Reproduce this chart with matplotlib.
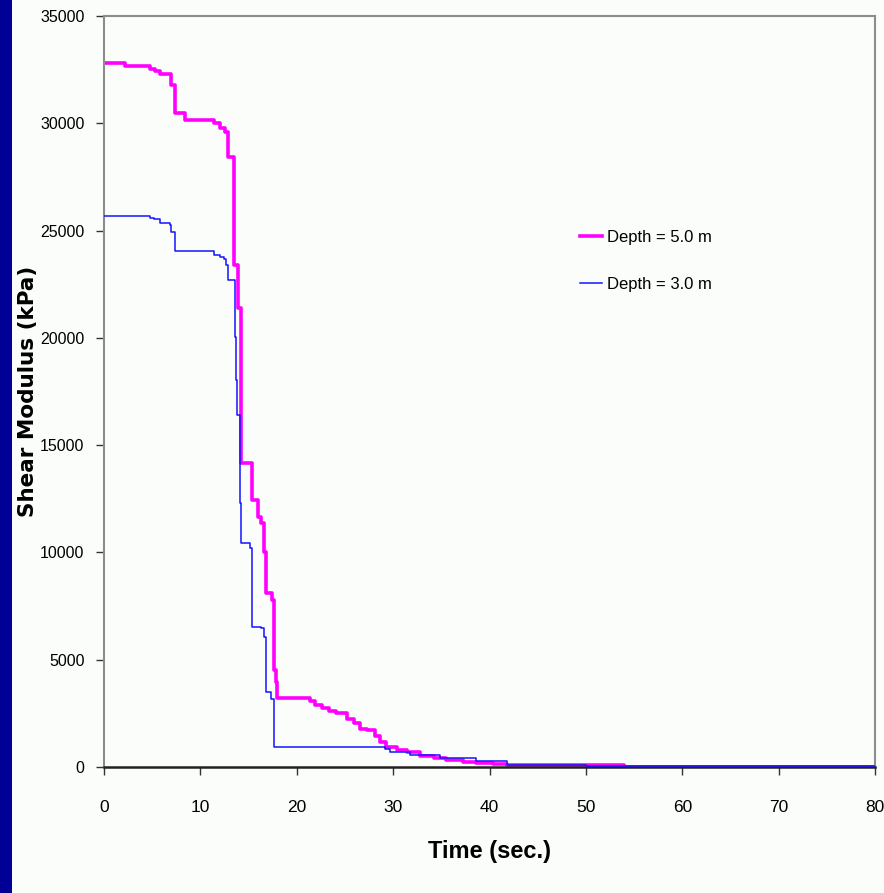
import matplotlib
matplotlib.use("Agg")
import matplotlib.pyplot as plt
from matplotlib.patches import Rectangle

# Depth = 5.0 m (step data: time of change, new value)
t_d5 = [0, 2.2, 4.8, 5.3, 5.8, 7.0, 7.4, 8.4, 11.4, 12.0, 12.6, 12.9, 13.5, 13.9,
        14.2, 15.4, 16.0, 16.3, 16.6, 16.8, 17.4, 17.6, 17.8, 18.0, 21.4, 21.9,
        22.6, 23.3, 24.1, 25.2, 25.9, 26.6, 27.3, 28.1, 28.6, 29.3, 30.4, 31.4,
        32.8, 34.2, 35.5, 37.3, 38.6, 40.4, 41.8, 48.0, 54.0, 80.0]
g_d5 = [32790, 32680, 32530, 32430, 32290, 31780, 30460, 30130, 30030, 29790,
        29600, 28430, 23400, 21370, 14170, 12440, 11660, 11370, 10030, 8100,
        7780, 4520, 3970, 3220, 3080, 2890, 2730, 2620, 2500, 2260, 2060, 1770,
        1720, 1440, 1180, 950, 790, 710, 510, 400, 330, 250, 200, 125, 110, 80,
        0, 0]

# Depth = 3.0 m
t_d3 = [0, 4.8, 5.2, 5.8, 6.8, 7.0, 7.4, 11.4, 12.0, 12.4, 12.7, 12.9, 13.6,
        13.7, 13.85, 14.1, 14.2, 15.1, 15.4, 16.3, 16.6, 16.8, 17.3, 17.6, 29.2,
        29.7, 31.7, 34.9, 38.6, 41.8, 50.0, 80.0]
g_d3 = [25680, 25600, 25520, 25360, 25250, 24940, 24050, 23860, 23750, 23670,
        23390, 22700, 20050, 18030, 16400, 12300, 10420, 10200, 6540, 6470,
        6070, 3510, 3190, 950, 820, 710, 560, 400, 290, 110, 60, 60]

labels = ["Depth = 5.0 m", "Depth = 3.0 m"]
x_ticks = [0, 10, 20, 30, 40, 50, 60, 70, 80]
y_ticks = [0, 5000, 10000, 15000, 20000, 25000, 30000, 35000]

narrow = ["Liberation Sans Narrow", "Liberation Sans", "DejaVu Sans"]

fig = plt.figure(figsize=(8.84, 8.93), dpi=100)
fig.patch.set_facecolor("#fbfdfb")
fig.add_artist(Rectangle((0, 0), 12 / 884, 1, transform=fig.transFigure,
                         facecolor="#000096", edgecolor="none", zorder=0))

ax = fig.add_axes([104 / 884, 1 - 767 / 893, 771 / 884, 751 / 893])
ax.set_facecolor("#fbfdfb")

ax.plot(t_d5, g_d5, drawstyle="steps-post", color="#ff00ff", lw=2.6,
        label=labels[0], zorder=2)
ax.plot(t_d3, g_d3, drawstyle="steps-post", color="#1414ff", lw=1.1,
        label=labels[1], zorder=3)

ax.set_xlim(0, 80)
ax.set_ylim(0, 35000)
ax.set_xticks(x_ticks)
ax.set_yticks(y_ticks)
ax.set_xticklabels([str(v) for v in x_ticks], family=narrow, fontsize=12.5)
ax.set_yticklabels([str(v) for v in y_ticks], family=narrow, fontsize=11.5)
ax.tick_params(axis="both", direction="out", length=6, width=1, color="#333333")
ax.tick_params(axis="x", pad=18)
ax.tick_params(axis="y", pad=8)

for s in ["top", "right", "left"]:
    ax.spines[s].set_color("#8c8c8c")
    ax.spines[s].set_linewidth(1.5)
ax.spines["bottom"].set_color("#222222")
ax.spines["bottom"].set_linewidth(1.8)

ax.set_xlabel("Time (sec.)", family=narrow, fontsize=17, fontweight="bold",
              labelpad=18)
ax.set_ylabel("Shear Modulus (kPa)", family="DejaVu Sans", fontsize=15.5,
              fontweight="bold")
ax.yaxis.set_label_coords(-0.086, 0.5)

leg = ax.legend(loc="upper left", bbox_to_anchor=(0.598, 0.735), frameon=False,
                prop={"family": narrow, "size": 12}, handlelength=1.3,
                handletextpad=0.3, labelspacing=1.9)

fig.savefig("out.png", dpi=100, facecolor=fig.get_facecolor())
